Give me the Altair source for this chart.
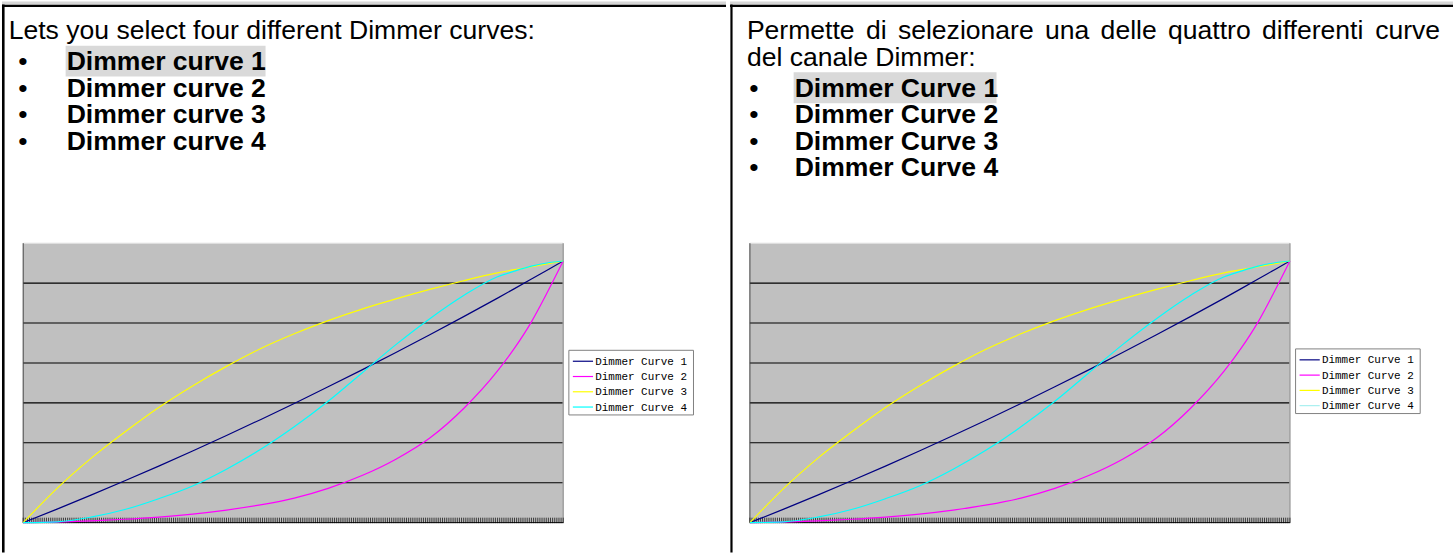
import altair as alt
import pandas as pd

# ---------------- data ----------------
steps = [0, 16, 32, 48, 64, 80, 96, 112, 128, 144, 160, 176, 192, 208, 224, 232, 240, 248, 255]
curve1 = [0, 3400, 6895, 10485, 14170, 17950, 21825, 25795, 29860, 34020, 38275, 42625, 47070, 51610, 56245, 58615, 61015, 63435, 65535]
curve2 = [0, 150, 450, 850, 1400, 2150, 3150, 4450, 6150, 8600, 11800, 15900, 21200, 28600, 38000, 43700, 50300, 58200, 65535]
curve3 = [0, 8600, 16100, 22700, 28850, 34250, 39150, 43560, 47300, 50600, 53500, 56050, 58430, 60600, 62560, 63360, 64090, 64900, 65535]
curve4 = [0, 200, 1370, 3290, 6000, 9200, 13400, 18300, 24000, 30400, 37500, 44600, 51100, 56900, 61600, 63000, 64250, 65100, 65535]
series_names = ["Dimmer Curve 1", "Dimmer Curve 2", "Dimmer Curve 3", "Dimmer Curve 4"]
y_gridlines = [10000, 20000, 30000, 40000, 50000, 60000]
x_ticks = list(range(256))

left_intro = "Lets you select four different Dimmer curves:"
left_items = ["Dimmer curve 1", "Dimmer curve 2", "Dimmer curve 3", "Dimmer curve 4"]
right_intro = ["Permette di selezionare una delle quattro differenti curve", "del canale Dimmer:"]
right_items = ["Dimmer Curve 1", "Dimmer Curve 2", "Dimmer Curve 3", "Dimmer Curve 4"]

# ---------------- styles ----------------
COLORS = ["#000080", "#FF00FF", "#FFFF00", "#00FFFF"]
FONT = "Liberation Sans"
FS = 26.7
PITCH = 26.7

rows = []
for name, vals in zip(series_names, [curve1, curve2, curve3, curve4]):
    for s, v in zip(steps, vals):
        rows.append({"step": s, "value": v, "curve": name})
df_lines = pd.DataFrame(rows)

ARIAL = {"P": 667, "e": 556, "r": 333, "m": 833, "t": 278, "d": 556, "i": 222, "s": 500,
         "l": 222, "z": 500, "o": 556, "n": 556, "a": 556, "u": 556, "q": 556, "f": 278,
         "c": 500, "v": 500}


def tw(s, size):
    return sum(ARIAL.get(ch, 556) for ch in s) / 1000.0 * size


def one(**kw):
    return pd.DataFrame({k: [v] for k, v in kw.items()})


def text(t, x, y, size=FS, weight="normal", font=FONT, align="left", baseline="alphabetic", color="black"):
    return alt.Chart(one(t=t)).mark_text(
        align=align, baseline=baseline, font=font, fontSize=size, fontWeight=weight, color=color
    ).encode(x=alt.value(x), y=alt.value(y), text="t:N")


def rect(x, x2, y, y2, fill, stroke=None, sw=0):
    kw = dict(fill=fill)
    if stroke:
        kw.update(stroke=stroke, strokeWidth=sw)
    return alt.Chart(one(a=0)).mark_rect(**kw).encode(
        x=alt.value(x), x2=alt.value(x2), y=alt.value(y), y2=alt.value(y2))


def hrule(x, x2, y, color, sw):
    return alt.Chart(one(a=0)).mark_rule(color=color, strokeWidth=sw).encode(
        x=alt.value(x), x2=alt.value(x2), y=alt.value(y))


def vrule(x, y, y2, color, sw):
    return alt.Chart(one(a=0)).mark_rule(color=color, strokeWidth=sw).encode(
        x=alt.value(x), y=alt.value(y), y2=alt.value(y2))


def chart_layers(px0, px1, legend_x, legend_y, legend_colors):
    xs = alt.Scale(domain=[0, 255], range=[px0, px1], nice=False, zero=False)
    ys = alt.Scale(domain=[0, 70000], range=[524, 243], nice=False)
    frame = one(x0=0, x1=255, y0=0, y1=70000)
    L = []
    L.append(alt.Chart(frame).mark_rect(fill="#C0C0C0").encode(
        x=alt.X("x0:Q", scale=xs, axis=None), x2="x1:Q",
        y=alt.Y("y0:Q", scale=ys, axis=None), y2="y1:Q"))
    grid = pd.DataFrame({"g": y_gridlines, "x0": 0, "x1": 255})
    L.append(alt.Chart(grid).mark_rule(color="#000000", strokeWidth=1.1).encode(
        y=alt.Y("g:Q", scale=ys, axis=None),
        x=alt.X("x0:Q", scale=xs, axis=None), x2="x1:Q"))
    # plot borders
    L.append(alt.Chart(frame).mark_rule(color="#E4E4E4", strokeWidth=1).encode(
        y=alt.Y("y1:Q", scale=ys, axis=None), x=alt.X("x0:Q", scale=xs, axis=None), x2="x1:Q"))
    L.append(alt.Chart(frame).mark_rule(color="#A0A0A0", strokeWidth=1.5).encode(
        x=alt.X("x1:Q", scale=xs, axis=None), y=alt.Y("y0:Q", scale=ys, axis=None), y2="y1:Q"))
    L.append(alt.Chart(frame).mark_rule(color="#404040", strokeWidth=1).encode(
        x=alt.X("x0:Q", scale=xs, axis=None), y=alt.Y("y0:Q", scale=ys, axis=None), y2="y1:Q"))
    ticks = pd.DataFrame({"t": x_ticks})
    L.append(alt.Chart(ticks).mark_rule(color="#2A2A2A", strokeWidth=0.9).encode(
        x=alt.X("t:Q", scale=xs, axis=None), y=alt.value(519), y2=alt.value(524.5)))
    L.append(alt.Chart(frame).mark_rule(color="#000000", strokeWidth=1).encode(
        y=alt.Y("y0:Q", scale=ys, axis=None), x=alt.X("x0:Q", scale=xs, axis=None), x2="x1:Q"))
    L.append(alt.Chart(df_lines).mark_line(strokeWidth=1.2, interpolate="monotone").encode(
        x=alt.X("step:Q", scale=xs, axis=None),
        y=alt.Y("value:Q", scale=ys, axis=None),
        color=alt.Color("curve:N", scale=alt.Scale(domain=series_names, range=COLORS), legend=None),
        order="step:Q"))
    # legend
    L.append(rect(legend_x, legend_x + 125.3, legend_y, legend_y + 65, "#FFFFFF", "#808080", 1))
    for k, (name, col) in enumerate(zip(series_names, legend_colors)):
        ry = legend_y + 11 + k * 15.35
        L.append(hrule(legend_x + 4, legend_x + 24.3, ry, col, 1.2))
        L.append(text(name, legend_x + 26.5, ry + 0.5, size=11, font="Liberation Mono",
                      baseline="middle"))
    return L


# ---------------- left panel ----------------
LW, RW, H = 728, 727, 554
TOP_BASE = 38
LIST0 = 69
left_layers = [
    rect(0, LW, 0, 3.2, "#D6D6D6"),
    hrule(0, LW, 4.3, "#000000", 2.3),
    vrule(1.3, 3, H, "#000000", 2.6),
    rect(64, 265, LIST0 - 24.5, LIST0 + 6.5, "#D9D9D9"),
    text(left_intro, 6.7, TOP_BASE),
]
for k, item in enumerate(left_items):
    by = LIST0 + k * PITCH
    left_layers.append(text("\u2022", 21, by, align="center"))
    left_layers.append(text(item, 65, by, weight="bold"))
left_layers += chart_layers(21.3, 564.3, 570, 350.7, COLORS)
left = alt.layer(*left_layers).properties(width=LW, height=H)

# ---------------- right panel ----------------
right_layers = [
    rect(0, RW, 0, 3.2, "#D6D6D6"),
    hrule(0, RW, 4.3, "#000000", 2.3),
    vrule(1.5, 3, H, "#000000", 2.2),
]
# justified first line
words = right_intro[0].split(" ")
ww = [tw(w, FS) for w in words]
x_l, x_r = 17, 714
gap = (x_r - x_l - sum(ww)) / (len(words) - 1)
xx = x_l
for w, wd in zip(words, ww):
    right_layers.append(text(w, xx, TOP_BASE))
    xx += wd + gap
right_layers.append(text(right_intro[1], x_l, TOP_BASE + PITCH))
R_LIST0 = LIST0 + PITCH
right_layers.append(rect(64, 268, R_LIST0 - 24.5, R_LIST0 + 6.5, "#D9D9D9"))
for k, item in enumerate(right_items):
    by = R_LIST0 + k * PITCH
    right_layers.append(text("\u2022", 24, by, align="center"))
    right_layers.append(text(item, 65, by, weight="bold"))
right_layers += chart_layers(20, 563, 568.7, 349.3, COLORS[:3] + ["#A8F0F0"])
right = alt.layer(*right_layers).properties(width=RW, height=H)

chart = alt.hconcat(left, right, spacing=0).properties(
    padding=0, background="#FFFFFF"
).configure_view(stroke=None)

chart.save("out.html", embed_options={"renderer": "svg", "actions": False})
